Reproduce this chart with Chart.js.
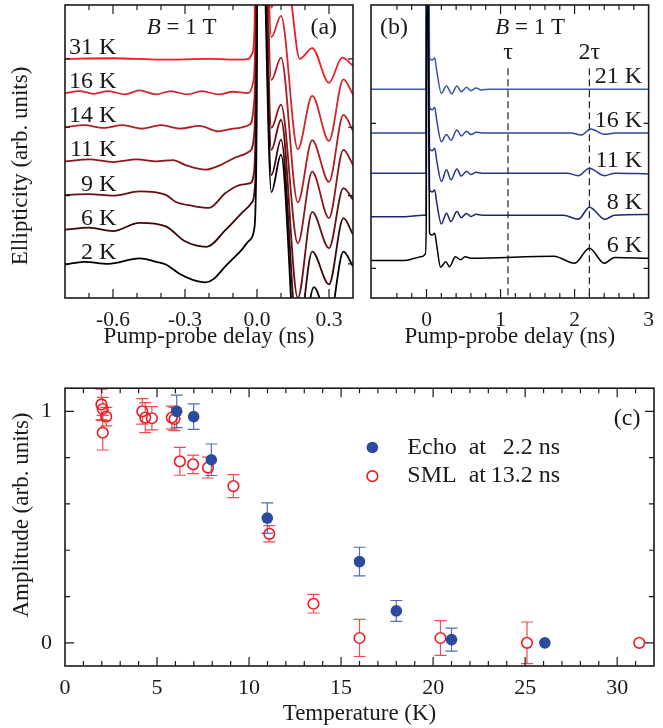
<!DOCTYPE html>
<html><head><meta charset="utf-8">
<script src="https://cdn.jsdelivr.net/npm/chart.js@4.4.1/dist/chart.umd.min.js"></script>
<style>
html,body{margin:0;padding:0;background:#fff;}
#wrap{position:relative;width:663px;height:728px;overflow:hidden;background:#fff;}
canvas{position:absolute;}
#ca{left:0;top:0;} #cb{left:362px;top:0;} #cc{left:0;top:362px;}
</style></head><body>
<div id="wrap">
<canvas id="ca" width="362" height="362"></canvas>
<canvas id="cb" width="301" height="362"></canvas>
<canvas id="cc" width="663" height="366"></canvas>
</div>
<script>
// ---------------- DATA ----------------
// Panel (a): delay (ns) vs ellipticity relative to each trace's own baseline (arb. units)
const tempsA = ['31 K','16 K','14 K','11 K','9 K','6 K','2 K'];
const offsetsA = [3.0, 2.5, 2.0, 1.5, 1.0, 0.5, 0];
const curveA31 = [[-0.8,0],[-0.6,0.01],[-0.4,-0.01],[-0.2,0],[-0.06,-0.01],[-0.035,0],[-0.02,0.08],[-0.01,0.5],[0,6],[0.012,6],[0.06,0.75],[0.1,1.6],[0.14,0.9],[0.178,0],[0.23,0.16],[0.3,-0.35],[0.355,0.02],[0.4,-0.1]];
const curveA16 = [[-0.8,0],[-0.74,0.03],[-0.68,-0.01],[-0.62,0.03],[-0.55,-0.02],[-0.49,0.04],[-0.42,-0.02],[-0.36,0.03],[-0.29,-0.02],[-0.23,0.03],[-0.16,-0.02],[-0.1,0.02],[-0.037,0],[-0.016,0.16],[-0.006,1],[0.004,6],[0.015,6],[0.06,0.82],[0.1,1.13],[0.17,-0.82],[0.23,-0.04],[0.3,-0.7],[0.36,0.2],[0.4,-0.02]];
const curveA14 = [[-0.8,0],[-0.72,0.03],[-0.64,-0.01],[-0.56,0.03],[-0.48,-0.02],[-0.4,0.03],[-0.32,-0.02],[-0.24,0.02],[-0.16,-0.06],[-0.1,-0.02],[-0.03,0.04],[-0.014,0.3],[-0.005,1.2],[0.004,6],[0.015,6],[0.06,0.69],[0.1,1.02],[0.17,-1.1],[0.23,-0.19],[0.3,-0.8],[0.36,0.18],[0.4,-0.05]];
const curveA11 = [[-0.8,0],[-0.7,0.03],[-0.6,-0.01],[-0.5,0.03],[-0.42,0],[-0.35,0.02],[-0.3,-0.05],[-0.215,-0.12],[-0.15,-0.05],[-0.08,0.07],[-0.03,0.15],[-0.012,0.4],[-0.004,1.5],[0.004,6],[0.015,6],[0.06,0.49],[0.1,0.83],[0.17,-1.2],[0.23,-0.15],[0.3,-0.83],[0.36,0.17],[0.4,-0.05]];
const curveA9 = [[-0.8,0.01],[-0.7,0.02],[-0.6,0],[-0.49,0.06],[-0.38,0.01],[-0.34,-0.09],[-0.27,-0.15],[-0.2,-0.18],[-0.13,0.04],[-0.065,0.16],[-0.03,0.18],[-0.012,0.35],[-0.004,1.5],[0.004,6],[0.015,6],[0.06,0.67],[0.1,1.11],[0.17,-1.5],[0.23,-0.24],[0.3,-0.77],[0.36,0.11],[0.4,-0.06]];
const curveA6 = [[-0.8,0],[-0.7,0.03],[-0.6,-0.02],[-0.49,0.1],[-0.38,0.05],[-0.3,-0.17],[-0.21,-0.25],[-0.13,0],[-0.065,0.24],[-0.023,0.39],[-0.01,0.58],[-0.003,1.5],[0.004,6],[0.015,6],[0.06,0.8],[0.1,1.32],[0.17,-1.6],[0.23,-0.32],[0.3,-0.8],[0.36,0.17],[0.4,-0.07]];
const curveA2 = [[-0.8,-0.01],[-0.72,0.03],[-0.62,0],[-0.49,0.08],[-0.42,0.03],[-0.38,-0.01],[-0.325,-0.14],[-0.27,-0.23],[-0.215,-0.27],[-0.18,-0.22],[-0.133,-0.04],[-0.065,0.2],[-0.03,0.35],[-0.012,0.5],[-0.003,1.5],[0.004,6],[0.015,6],[0.06,1.05],[0.1,1.6],[0.17,-1.7],[0.237,-0.34],[0.3,-0.85],[0.36,0.18],[0.4,-0.04]];
const curvesA = [curveA31, curveA16, curveA14, curveA11, curveA9, curveA6, curveA2];

// Panel (b)
const tempsB = ['21 K','16 K','11 K','8 K','6 K'];
const offsetsB = [1.235, 0.933, 0.656, 0.366, 0.069];
const curveB21 = [[-0.75,0],[-0.3,0],[-0.01,0],[-0.003,0.3],[0.003,3],[0.04,0.215],[0.075,0.2],[0.11,0.215],[0.14,0.12],[0.2,-0.028],[0.27,0.023],[0.34,-0.032],[0.41,0.023],[0.47,-0.017],[0.54,0.014],[0.6,-0.01],[0.67,0.008],[0.74,-0.005],[0.85,0],[1.5,0],[2.2,0],[3,0]];
const curveB16 = [[-0.75,0],[-0.3,0],[-0.01,0],[-0.003,0.3],[0.003,3],[0.04,0.177],[0.075,0.16],[0.11,0.177],[0.14,0.08],[0.2,-0.06],[0.27,-0.01],[0.33,-0.05],[0.41,0.02],[0.47,-0.02],[0.54,0.012],[0.6,-0.01],[0.67,0.006],[0.75,0],[1.95,0],[2.09,-0.014],[2.22,0.028],[2.4,-0.009],[2.55,0],[3,0]];
const curveB11 = [[-0.75,0],[-0.3,0],[-0.01,0],[-0.003,0.3],[0.003,3],[0.04,0.17],[0.075,0.155],[0.11,0.172],[0.14,0.08],[0.2,-0.058],[0.27,0.023],[0.33,-0.046],[0.41,0.028],[0.47,-0.02],[0.54,0.014],[0.6,-0.01],[0.67,0.006],[0.75,0],[1.9,0],[2.05,-0.017],[2.2,0.034],[2.4,-0.017],[2.55,0],[3,-0.005]];
const curveB8 = [[-0.75,-0.01],[-0.3,-0.01],[-0.05,0],[-0.01,0],[-0.003,0.3],[0.003,3],[0.04,0.175],[0.075,0.16],[0.11,0.174],[0.14,0.08],[0.2,-0.06],[0.27,0.014],[0.33,-0.044],[0.41,0.025],[0.47,-0.017],[0.54,0.012],[0.6,-0.008],[0.67,0.006],[0.75,0],[1.85,0],[2.05,-0.028],[2.2,0.055],[2.41,-0.028],[2.54,0],[3,0.005]];
const curveB6 = [[-0.75,-0.016],[-0.3,-0.016],[-0.16,0],[-0.055,0.012],[-0.015,0.03],[-0.003,0.3],[0.003,3],[0.04,0.175],[0.075,0.16],[0.11,0.172],[0.14,0.08],[0.19,-0.062],[0.26,-0.024],[0.31,-0.058],[0.39,0.011],[0.46,-0.01],[0.52,0.01],[0.6,0],[1.72,0.014],[2.0,-0.034],[2.2,0.069],[2.4,-0.034],[2.54,0.006],[3.0,0]];
const curvesB = [curveB21, curveB16, curveB11, curveB8, curveB6];
const tauTimes = [1.1, 2.2];
const tauLabels = ['\u03c4', '2\u03c4'];

// Panel (c)
const echoT   = [6.07, 6.99, 7.95, 10.99, 16.0, 18.0, 21.0, 26.07];
const echoAmp = [1.0, 0.977, 0.791, 0.539, 0.351, 0.138, 0.014, 0.0];
const echoErr = [0.07, 0.055, 0.068, 0.066, 0.062, 0.045, 0.05, 0];
const smlT   = [1.98, 2.05, 2.24, 2.05, 4.2, 4.36, 4.72, 5.8, 5.95, 6.24, 6.96, 7.77, 9.15, 11.1, 13.5, 16.0, 20.4, 25.1, 31.2];
const smlAmp = [1.03, 1.01, 0.977, 0.908, 1.0, 0.973, 0.97, 0.973, 0.967, 0.784, 0.771, 0.757, 0.677, 0.471, 0.169, 0.021, 0.021, 0.0, 0.0];
const smlErr = [0.066, 0.05, 0.04, 0.075, 0.055, 0.065, 0.05, 0.05, 0.05, 0.06, 0.04, 0.045, 0.05, 0.035, 0.04, 0.08, 0.075, 0.09, 0];
const ampTicks = [0, 0.2, 0.4, 0.6, 0.8, 1.0];
const ampTickLabels = ['0', '', '', '', '', '1'];

// ---------------- STYLE ----------------
const INK = '#1a1a1a';
const FAMILY = "'Liberation Serif', 'Times New Roman', Times, serif";
const colorsA = ['#ee1c24','#d1272d','#ae2026','#8a181d','#661015','#3a0709','#000000'];
const colorsB = ['#3a57b2','#2f459c','#25358a','#1b2670','#000000'];
const BLUE = '#2c4b9f', BLUE_BAR = '#4f6db8', RED = '#ec1c24', RED_BAR = '#f04a52';
const TICK_MAJOR = 9, TICK_MINOR = 5;

Chart.defaults.font.family = FAMILY;
Chart.defaults.color = INK;
Chart.defaults.animation = false;

const near = (v, m) => Math.abs(v / m - Math.round(v / m)) < 1e-6;

function framePlugin(xMajor, yMajor) {
  return {
    id: 'frameTicks',
    afterDatasetsDraw(chart) {
      const {ctx, chartArea: a} = chart;
      const xs = chart.scales.x, ys = chart.scales.y;
      ctx.save();
      ctx.strokeStyle = INK;
      ctx.lineWidth = 1.2;
      ctx.beginPath();
      xs.ticks.forEach(t => {
        const p = xs.getPixelForValue(t.value);
        if (p < a.left + 2 || p > a.right - 2) return;
        const L = xMajor(t.value) ? TICK_MAJOR : TICK_MINOR;
        ctx.moveTo(p, a.bottom); ctx.lineTo(p, a.bottom - L);
        ctx.moveTo(p, a.top); ctx.lineTo(p, a.top + L);
      });
      ys.ticks.forEach(t => {
        const p = ys.getPixelForValue(t.value);
        if (p < a.top + 2 || p > a.bottom - 2) return;
        const L = yMajor(t.value) ? TICK_MAJOR : TICK_MINOR;
        ctx.moveTo(a.left, p); ctx.lineTo(a.left + L, p);
        ctx.moveTo(a.right, p); ctx.lineTo(a.right - L, p);
      });
      ctx.stroke();
      ctx.lineWidth = 1.6;
      ctx.strokeRect(a.left, a.top, a.right - a.left, a.bottom - a.top);
      ctx.restore();
    }
  };
}

function textPlugin(items) {
  return {
    id: 'annot',
    afterDraw(chart) {
      const ctx = chart.ctx, xs = chart.scales.x, ys = chart.scales.y;
      items.forEach(it => {
        const x = it.px ? it.px[0] : xs.getPixelForValue(it.x);
        const y = it.px ? it.px[1] : ys.getPixelForValue(it.y);
        const size = it.size || 23;
        const segs = it.segs || [{t: it.text}];
        ctx.save();
        ctx.translate(x, y);
        if (it.rot) ctx.rotate(it.rot);
        ctx.fillStyle = INK;
        ctx.textBaseline = 'middle';
        ctx.textAlign = 'left';
        const fonts = segs.map(s => (s.italic ? 'italic ' : '') + size + 'px ' + FAMILY);
        const widths = segs.map((s, i) => { ctx.font = fonts[i]; return ctx.measureText(s.t).width; });
        const total = widths.reduce((p, q) => p + q, 0);
        let sx = it.align === 'right' ? -total : (it.align === 'left' ? 0 : -total / 2);
        segs.forEach((s, i) => { ctx.font = fonts[i]; ctx.fillText(s.t, sx, 0); sx += widths[i]; });
        ctx.restore();
      });
    }
  };
}

function xAxis(min, max, step, labelFn, title, tickPad, titlePad, height, fontSize) {
  return {
    type: 'linear', min, max,
    ticks: { stepSize: step, autoSkip: false, maxRotation: 0, minRotation: 0, padding: tickPad,
             font: { size: fontSize }, color: INK, callback: labelFn },
    grid: { display: false, drawTicks: false }, border: { display: false },
    title: { display: true, text: title, font: { size: 23 }, color: INK, padding: { top: 0, bottom: titlePad } },
    afterFit: s => { s.height = height; }
  };
}
function yAxis(min, max, step, labelFn, width, showLabels, fontSize) {
  return {
    type: 'linear', min, max,
    ticks: { display: showLabels, stepSize: step, includeBounds: false, autoSkip: false, padding: 13,
             font: { size: fontSize }, color: INK, callback: labelFn },
    grid: { display: false, drawTicks: false }, border: { display: false },
    afterFit: s => { s.width = width; }
  };
}

// ---------------- PANEL (a) ----------------
const dsA = curvesA.map((c, i) => ({
  label: tempsA[i],
  data: c.map(([t, v]) => ({ x: t, y: v + offsetsA[i] })),
  borderColor: colorsA[i], borderWidth: 1.8, pointRadius: 0,
  cubicInterpolationMode: 'monotone', fill: false, order: curvesA.length - 1 - i
}));
const annA = tempsA.map((s, i) => ({ text: s, x: -0.586, y: offsetsA[i] + 0.165, align: 'right', size: 24 }));
annA.push({ segs: [{ t: 'B', italic: true }, { t: ' = 1 T' }], x: -0.314, y: 3.455, size: 23 });
annA.push({ text: '(a)', x: 0.278, y: 3.455, size: 24 });
annA.push({ text: 'Ellipticity (arb. units)', px: [21, 166], rot: -Math.PI / 2, size: 23 });

new Chart(document.getElementById('ca'), {
  type: 'line',
  data: { datasets: dsA },
  options: {
    responsive: false, devicePixelRatio: 1, animation: false,
    layout: { padding: { left: 0, top: 5, right: 4, bottom: 0 } },
    plugins: { legend: { display: false }, tooltip: { enabled: false } },
    scales: {
      x: xAxis(-0.8, 0.4, 0.1, v => near(v, 0.3) ? (Math.abs(v) < 1e-9 ? '0.0' : v.toFixed(1)) : '',
               'Pump-probe delay (ns)', 9, 11, 64, 21.5),
      y: yAxis(-0.5, 3.79, 1, () => '', 65, false, 21.5)
    }
  },
  plugins: [framePlugin(v => near(v, 0.3), () => false), textPlugin(annA)]
});

// ---------------- PANEL (b) ----------------
const dsB = curvesB.map((c, i) => ({
  label: tempsB[i],
  data: c.map(([t, v]) => ({ x: t, y: v + offsetsB[i] })),
  borderColor: colorsB[i], borderWidth: 1.5, pointRadius: 0,
  cubicInterpolationMode: 'monotone', fill: false, order: curvesB.length - 1 - i
}));
tauTimes.forEach(t => dsB.push({
  label: 'tau', data: [{ x: t, y: 1.38 }, { x: t, y: -0.3 }],
  borderColor: '#222', borderWidth: 1.2, borderDash: [7, 4], pointRadius: 0, fill: false, order: 10
}));
const annB = tempsB.map((s, i) => ({ text: s, x: 2.91, y: offsetsB[i] + 0.085, align: 'right', size: 24 }));
annB.push({ segs: [{ t: 'B', italic: true }, { t: ' = 1 T' }], x: 1.4, y: 1.657, size: 23 });
annB.push({ text: '(b)', x: -0.44, y: 1.657, size: 24 });
tauTimes.forEach((t, i) => annB.push({ text: tauLabels[i], x: t, y: 1.485, size: 24 }));

new Chart(document.getElementById('cb'), {
  type: 'line',
  data: { datasets: dsB },
  options: {
    responsive: false, devicePixelRatio: 1, animation: false,
    layout: { padding: { left: 5, top: 5, right: 6, bottom: 0 } },
    plugins: { legend: { display: false }, tooltip: { enabled: false } },
    scales: {
      x: xAxis(-0.75, 3, 0.2, v => near(v, 1) ? String(Math.round(v)) : '',
               'Pump-probe delay (ns)', 9, 11, 64, 21.5),
      y: yAxis(-0.205, 1.816, 1, () => '', 0, false, 21.5)
    }
  },
  plugins: [framePlugin(v => near(v, 1), () => false), textPlugin(annB)]
});

// ---------------- PANEL (c) ----------------
const errorBarPlugin = {
  id: 'errbars',
  beforeDatasetsDraw(chart) {
    const ctx = chart.ctx, xs = chart.scales.x, ys = chart.scales.y;
    const sets = [
      { t: smlT, a: smlAmp, e: smlErr, c: RED_BAR, gap: 6 },
      { t: echoT, a: echoAmp, e: echoErr, c: BLUE_BAR, gap: 0 }
    ];
    ctx.save();
    ctx.lineWidth = 1.2;
    sets.forEach(s => {
      ctx.strokeStyle = s.c;
      s.t.forEach((t, i) => {
        if (!s.e[i]) return;
        const x = xs.getPixelForValue(t);
        const y = ys.getPixelForValue(s.a[i]);
        const y1 = ys.getPixelForValue(s.a[i] + s.e[i]);
        const y2 = ys.getPixelForValue(s.a[i] - s.e[i]);
        ctx.beginPath();
        if (s.gap) {
          ctx.moveTo(x, y1); ctx.lineTo(x, Math.min(y - s.gap, y2));
          ctx.moveTo(x, y2); ctx.lineTo(x, Math.max(y + s.gap, y1));
        } else { ctx.moveTo(x, y1); ctx.lineTo(x, y2); }
        ctx.moveTo(x - 6, y1); ctx.lineTo(x + 6, y1);
        ctx.moveTo(x - 6, y2); ctx.lineTo(x + 6, y2);
        ctx.stroke();
      });
    });
    ctx.restore();
  }
};
const legendC = { x: 16.7, rows: [0.844, 0.72], textX: 18.6, numX: 26.9 };
const legendPlugin = {
  id: 'legendC',
  afterDatasetsDraw(chart) {
    const ctx = chart.ctx, xs = chart.scales.x, ys = chart.scales.y;
    const mx = xs.getPixelForValue(legendC.x);
    const y0 = ys.getPixelForValue(legendC.rows[0]);
    const y1 = ys.getPixelForValue(legendC.rows[1]);
    ctx.save();
    ctx.fillStyle = BLUE;
    ctx.beginPath(); ctx.arc(mx, y0, 5.8, 0, Math.PI * 2); ctx.fill();
    ctx.strokeStyle = RED; ctx.lineWidth = 1.6;
    ctx.beginPath(); ctx.arc(mx, y1, 5.3, 0, Math.PI * 2); ctx.stroke();
    ctx.restore();
  }
};
const annC = [
  { text: 'Echo  at', x: legendC.textX, y: legendC.rows[0], align: 'left', size: 24 },
  { text: '2.2 ns', x: legendC.numX, y: legendC.rows[0], align: 'right', size: 24 },
  { text: 'SML  at', x: legendC.textX, y: legendC.rows[1], align: 'left', size: 24 },
  { text: '13.2 ns', x: legendC.numX, y: legendC.rows[1], align: 'right', size: 24 },
  { text: '(c)', x: 30.54, y: 0.969, size: 24 },
  { text: 'Amplitude (arb. units)', px: [22, 153], rot: -Math.PI / 2, size: 23 }
];

const yC = yAxis(-0.1, 1.1, 0.2, (v, i) => ampTickLabels[i] !== undefined ? ampTickLabels[i] : '', 65, true, 22);
yC.afterBuildTicks = s => { s.ticks = ampTicks.map(v => ({ value: v })); };

new Chart(document.getElementById('cc'), {
  type: 'scatter',
  data: { datasets: [
    { label: 'Echo at 2.2 ns', data: echoT.map((t, i) => ({ x: t, y: echoAmp[i] })),
      pointRadius: 5.8, pointBackgroundColor: BLUE, pointBorderColor: BLUE, pointBorderWidth: 0, showLine: false },
    { label: 'SML at 13.2 ns', data: smlT.map((t, i) => ({ x: t, y: smlAmp[i] })),
      pointRadius: 5.3, pointBackgroundColor: 'rgba(255,255,255,0)', pointBorderColor: RED, pointBorderWidth: 1.6, showLine: false }
  ] },
  options: {
    responsive: false, devicePixelRatio: 1, animation: false,
    layout: { padding: { left: 0, top: 13, right: 6, bottom: 0 } },
    plugins: { legend: { display: false }, tooltip: { enabled: false } },
    scales: {
      x: xAxis(0, 32, 1, v => near(v, 5) ? String(Math.round(v)) : '', 'Temperature (K)', 9, 0, 62, 22),
      y: yC
    }
  },
  plugins: [errorBarPlugin, framePlugin(v => near(v, 5), v => Math.abs(v) < 1e-6 || Math.abs(v - 1) < 1e-6), legendPlugin, textPlugin(annC)]
});
</script>
</body></html>
